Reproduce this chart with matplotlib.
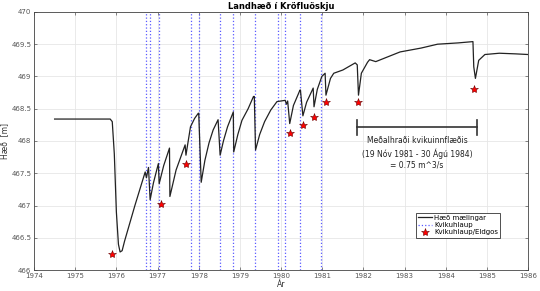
import matplotlib
matplotlib.use("Agg")
import matplotlib.pyplot as plt

# measured height (year, m)
years = [1974.5, 1975.85, 1975.90, 1975.95, 1976.00, 1976.05, 1976.09, 1976.14, 1976.20,
         1976.45, 1976.70, 1976.73, 1976.78, 1976.82, 1976.90, 1977.02, 1977.04, 1977.15,
         1977.29, 1977.30, 1977.45, 1977.67, 1977.69, 1977.80, 1977.90, 1977.99, 1978.00,
         1978.06, 1978.15, 1978.25, 1978.35, 1978.47, 1978.52, 1978.60, 1978.70, 1978.84,
         1978.85, 1978.95, 1979.05, 1979.20, 1979.33, 1979.35, 1979.38, 1979.48, 1979.60,
         1979.75, 1979.90, 1980.10, 1980.13, 1980.16, 1980.21, 1980.30, 1980.46, 1980.47,
         1980.53, 1980.62, 1980.78, 1980.80, 1980.88, 1980.99, 1981.07, 1981.09, 1981.20,
         1981.28, 1981.50, 1981.80, 1981.85, 1981.88, 1981.95, 1982.10, 1982.15, 1982.30,
         1982.89, 1983.40, 1983.80, 1984.30, 1984.66, 1984.68, 1984.72, 1984.80, 1984.95,
         1985.30, 1985.70, 1986.0]
height = [468.34, 468.34, 468.30, 467.80, 466.90, 466.40, 466.28, 466.30, 466.45,
          467.00, 467.52, 467.43, 467.59, 467.09, 467.35, 467.65, 467.34, 467.62,
          467.89, 467.14, 467.55, 467.94, 467.78, 468.22, 468.35, 468.43, 468.43,
          467.36, 467.70, 467.97, 468.17, 468.33, 467.78, 468.00, 468.22, 468.45,
          467.83, 468.10, 468.32, 468.50, 468.69, 468.69, 467.86, 468.10, 468.30,
          468.48, 468.61, 468.63, 468.57, 468.62, 468.27, 468.55, 468.79, 468.79,
          468.39, 468.60, 468.82, 468.53, 468.80, 469.00, 469.05, 468.71, 468.97,
          469.05, 469.10, 469.21, 469.18, 468.71, 469.05, 469.22, 469.26, 469.23,
          469.38, 469.44, 469.50, 469.52, 469.54, 469.15, 468.97, 469.25, 469.34,
          469.36, 469.35, 469.34]

# intrusions (kvikuhlaup)
intrusions = [1976.72, 1976.82, 1977.04, 1977.82, 1978.01, 1978.51, 1978.84, 1979.36,
              1979.93, 1980.10, 1980.47, 1980.97]

# intrusions / eruptions (stars)
erupt_years = [1975.90, 1977.08, 1977.68, 1980.21, 1980.53, 1980.80, 1981.08, 1981.88, 1984.68]
erupt_h = [466.25, 467.02, 467.65, 468.13, 468.25, 468.37, 468.61, 468.61, 468.80]

fig = plt.figure(figsize=(5.4, 2.91), dpi=100)
ax = fig.add_axes([0.063, 0.072, 0.915, 0.887])

line, = ax.plot(years, height, color="#222222", linewidth=0.9, label="Hæð mælingar", zorder=3)
for i, x in enumerate(intrusions):
    v = ax.axvline(x, color="#5a5aff", linestyle=":", linewidth=0.9)
stars, = ax.plot(erupt_years, erupt_h, linestyle="none", marker="*", markersize=6,
                 markerfacecolor="red", markeredgecolor="#660000", markeredgewidth=0.4,
                 zorder=4)

# average inflow rate bar
ax.plot([1981.85, 1984.75], [468.21, 468.21], color="#333333", linewidth=1.2)
ax.plot([1981.85, 1981.85], [468.09, 468.33], color="#333333", linewidth=1.2)
ax.plot([1984.75, 1984.75], [468.09, 468.33], color="#333333", linewidth=1.2)
ax.text(1983.3, 468.07, "Meðalhraði kvikuinnflæðis\n(19 Nóv 1981 - 30 Ágú 1984)\n= 0.75 m^3/s",
        ha="center", va="top", fontsize=5.5, color="#222222", linespacing=1.3)

ax.set_xlim(1974, 1986)
ax.set_ylim(466, 470)
ax.set_xticks(range(1974, 1987))
ax.set_yticks([466, 466.5, 467, 467.5, 468, 468.5, 469, 469.5, 470])
ax.set_yticklabels(["466", "466.5", "467", "467.5", "468", "468.5", "469", "469.5", "470"])
ax.grid(True, color="#e6e6e6", linewidth=0.6)
ax.set_axisbelow(True)
ax.tick_params(direction="in", top=True, right=True, labelsize=5, colors="#555555",
               length=2.5, width=0.5, pad=2)
for s in ax.spines.values():
    s.set_color("#444444")
    s.set_linewidth(0.6)

ax.set_title("Landhæð í Kröfluöskju", fontsize=6, fontweight="bold", pad=2)
ax.set_ylabel("Hæð  [m]", fontsize=5.5, color="#333333")
ax.yaxis.set_label_coords(-0.05, 0.5)
ax.set_xlabel("Ár", fontsize=5.5, color="#333333", labelpad=1)

leg = ax.legend([line, v, stars], ["Hæð mælingar", "Kvikuhlaup", "Kvikuhlaup/Eldgos"],
                loc="upper left", bbox_to_anchor=(0.766, 0.236), fontsize=5,
                frameon=True, fancybox=False, edgecolor="#333333", framealpha=1,
                handlelength=2, handletextpad=0.3, borderpad=0.3, labelspacing=0.2)
leg.get_frame().set_linewidth(0.6)

fig.savefig("out.png", dpi=100)
